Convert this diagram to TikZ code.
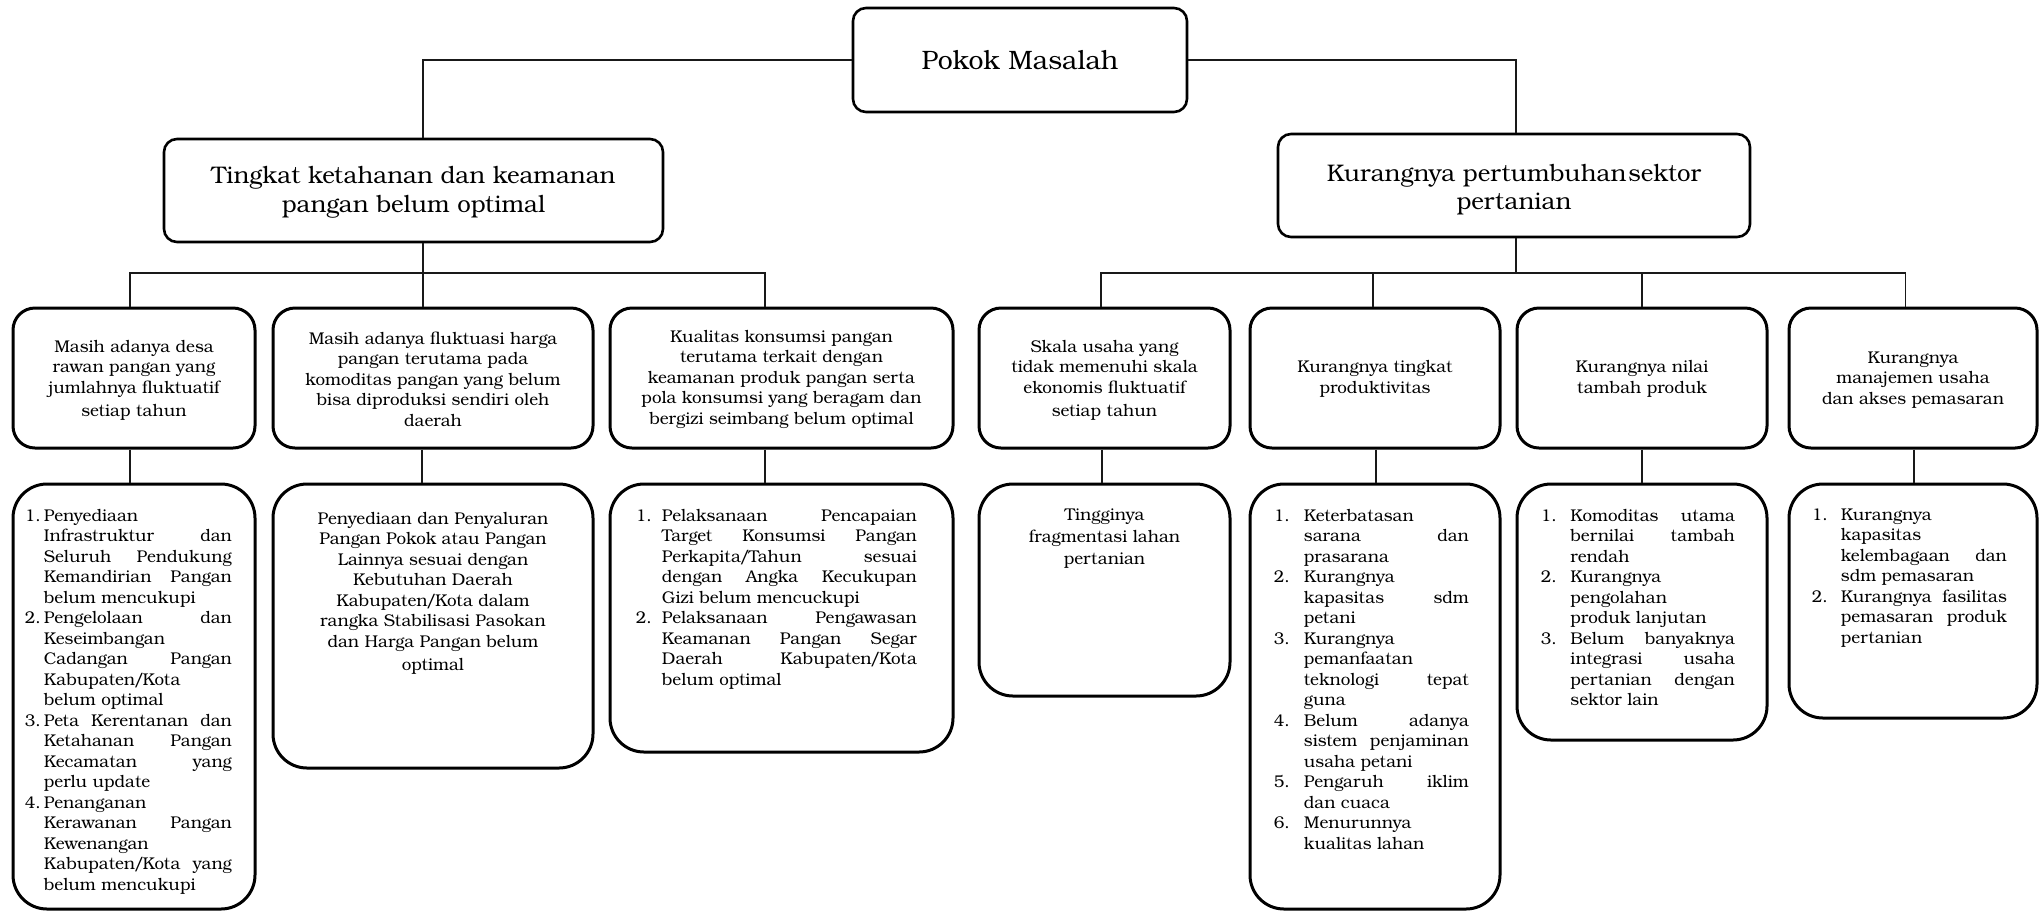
\documentclass[tikz,border=0pt]{standalone}
\usepackage{graphicx}
\usepackage{fontspec}
\setmainfont{texgyrebonum}[Extension=.otf,UprightFont=*-regular,BoldFont=*-bold,ItalicFont=*-italic,BoldItalicFont=*-bolditalic]
\newdimen\IND \newdimen\W \newdimen\avail
\newcommand\sls{\kern-0.08em/\kern-0.08em}
\newcommand\fitline[3]{%
 \avail=\W \advance\avail-\IND
 \setbox0=\hbox{#3}%
 \hbox to\W{\hbox to\IND{#1\hss}%
  \ifdim\wd0>\avail
    \pgfmathsetmacro\fitr{\the\avail/\the\wd0}\scalebox{\fitr}[1]{\box0}%
  \else
    \if#2j\hbox to\avail{#3}\else\box0\hss\fi
  \fi}}
\newcommand\JF[2]{\fitline{#1}{j}{#2}}
\newcommand\RF[2]{\fitline{#1}{r}{#2}}
\newcommand\JL[1]{\fitline{}{j}{#1}}
\newcommand\RL[1]{\fitline{}{r}{#1}}
\tikzset{
 conn/.style={line width=0.8pt, draw=black!90},
 topbox/.style={draw, line width=1.3pt, rounded corners=6.5pt, inner sep=0pt},
 midbox/.style={draw, line width=1.5pt, rounded corners=11pt, inner sep=0pt},
 lowbox/.style={draw, line width=1.5pt, rounded corners=17pt, inner sep=0pt},
 headtxt/.style={align=center, inner sep=0pt, font=\fontsize{12}{14.3}\selectfont},
 midtxt/.style={align=center, inner sep=0pt, font=\fontsize{8.5}{10.25}\selectfont},
 lowctr/.style={anchor=north, align=center, inner sep=0pt, font=\fontsize{8.5}{10.25}\selectfont},
 listtxt/.style={anchor=north west, align=left, inner sep=0pt, font=\fontsize{8.5}{10.25}\selectfont},
}
\begin{document}
\begin{tikzpicture}[x=0.5pt,y=-0.5pt]
\fill[white] (0,0) rectangle (2044,912);
\useasboundingbox (0,0) rectangle (2044,912);
% top
\node[topbox, minimum width=167pt, minimum height=52pt] (pokok) at (1020,60) {};
\node[headtxt, font=\fontsize{13.3}{14}\selectfont] (pokokT) at (pokok.center) {Pokok Masalah};
% level 1
\node[topbox, minimum width=249.5pt, minimum height=51.5pt] (ka) at (413.5,190.5) {};
\node[headtxt] (kaT) at ([yshift=-1pt]ka.center) {Tingkat ketahanan dan keamanan\\pangan belum optimal};
\node[topbox, minimum width=236pt, minimum height=51.5pt] (kb) at (1514,185.5) {};
\node[headtxt] (kbT) at ([yshift=-2pt]kb.center) {Kurangnya pertumbuhan\hspace{1pt}sektor\\pertanian};
% level 2
\node[midbox, minimum width=121pt, minimum height=70pt] (m1) at (134,378) {};
\node[midbox, minimum width=160pt, minimum height=70pt] (m2) at (433,378) {};
\node[midbox, minimum width=171.5pt, minimum height=70pt] (m3) at (781.5,378) {};
\node[midbox, minimum width=125.5pt, minimum height=70pt] (m4) at (1104.5,378) {};
\node[midbox, minimum width=125pt, minimum height=70pt] (m5) at (1375,378) {};
\node[midbox, minimum width=125pt, minimum height=70pt] (m6) at (1642,378) {};
\node[midbox, minimum width=124pt, minimum height=70pt] (m7) at (1913,378) {};
\node[midtxt] (m1T) at ([yshift=-1pt]m1.center) {Masih adanya desa\\rawan pangan yang\\jumlahnya fluktuatif\\[1.2pt]setiap tahun};
\node[midtxt] (m2T) at ([yshift=-0.5pt]m2.center) {Masih adanya fluktuasi harga\\pangan terutama pada\\komoditas pangan yang belum\\bisa diproduksi sendiri oleh\\daerah};
\node[midtxt] (m3T) at ([yshift=-0.5pt]m3.center) {Kualitas konsumsi pangan\\terutama terkait dengan\\keamanan produk pangan serta\\pola konsumsi yang beragam dan\\bergizi seimbang belum optimal};
\node[midtxt] (m4T) at ([yshift=-1pt]m4.center) {Skala usaha yang\\tidak memenuhi skala\\ekonomis fluktuatif\\[1.2pt]setiap tahun};
\node[midtxt] (m5T) at ([yshift=-0.5pt]m5.center) {Kurangnya tingkat\\produktivitas};
\node[midtxt] (m6T) at ([yshift=-0.5pt]m6.center) {Kurangnya nilai\\tambah produk};
\node[midtxt] (m7T) at ([yshift=-1pt]m7.center) {Kurangnya\\manajemen usaha\\dan akses pemasaran};
% level 3
\node[lowbox, minimum width=121pt, minimum height=212.5pt] (l1) at (134,696.5) {};
\node[lowbox, minimum width=160pt, minimum height=142pt] (l2) at (433,626) {};
\node[lowbox, minimum width=171.5pt, minimum height=134pt] (l3) at (781.5,618) {};
\node[lowbox, minimum width=125.5pt, minimum height=106pt] (l4) at (1104.5,590) {};
\node[lowbox, minimum width=125pt, minimum height=212.5pt] (l5) at (1375,696.5) {};
\node[lowbox, minimum width=125pt, minimum height=128pt] (l6) at (1642,612) {};
\node[lowbox, minimum width=124pt, minimum height=117pt] (l7) at (1913,601) {};
\IND=9.5pt \W=103.5pt
\node[listtxt] (l1T) at ([xshift=6.5pt,yshift=-13pt]l1.north west) {%
\RF{1.}{Penyediaan}\\
\JL{Infrastruktur\hfill dan}\\
\JL{Seluruh\hfill Pendukung}\\
\JL{Kemandirian\hfill Pangan}\\
\RL{belum mencukupi}\\
\JF{2.}{Pengelolaan\hfill dan}\\
\RL{Keseimbangan}\\
\JL{Cadangan\hfill Pangan}\\
\RL{Kabupaten\sls Kota}\\
\RL{belum optimal}\\
\JF{3.}{Peta\hfill Kerentanan\hfill dan}\\
\JL{Ketahanan\hfill Pangan}\\
\JL{Kecamatan\hfill yang}\\
\RL{perlu update}\\
\RF{4.}{Penanganan}\\
\JL{Kerawanan\hfill Pangan}\\
\RL{Kewenangan}\\
\JL{Kabupaten\sls Kota\hfill yang}\\
\RL{belum mencukupi}};
\node[lowctr] (l2T) at ([yshift=-14.5pt]l2.north) {Penyediaan dan Penyaluran\\Pangan Pokok atau Pangan\\Lainnya sesuai dengan\\Kebutuhan Daerah\\Kabupaten\sls Kota dalam\\rangka Stabilisasi Pasokan\\dan Harga Pangan belum\\[1.5pt]optimal};
\IND=13pt \W=140.5pt
\node[listtxt] (l3T) at ([xshift=13.5pt,yshift=-13pt]l3.north west) {%
\JF{1.}{Pelaksanaan\hfill Pencapaian}\\
\JL{Target\hfill Konsumsi\hfill Pangan}\\
\JL{Perkapita\sls Tahun\hfill sesuai}\\
\JL{dengan\hfill Angka\hfill Kecukupan}\\
\RL{Gizi belum mencuckupi}\\
\JF{2.}{Pelaksanaan\hfill Pengawasan}\\
\JL{Keamanan\hfill Pangan\hfill Segar}\\
\JL{Daerah\hfill Kabupaten\sls Kota}\\
\RL{belum optimal}};
\node[lowctr, font=\fontsize{8.5}{11}\selectfont] (l4T) at ([yshift=-13pt]l4.north) {Tingginya\\fragmentasi lahan\\pertanian};
\IND=15pt \W=97.5pt
\node[listtxt] (l5T) at ([xshift=12.5pt,yshift=-13pt]l5.north west) {%
\RF{1.}{Keterbatasan}\\
\JL{sarana\hfill dan}\\
\RL{prasarana}\\
\RF{2.}{Kurangnya}\\
\JL{kapasitas\hfill sdm}\\
\RL{petani}\\
\RF{3.}{Kurangnya}\\
\RL{pemanfaatan}\\
\JL{teknologi\hfill tepat}\\
\RL{guna}\\
\JF{4.}{Belum\hfill adanya}\\
\JL{sistem\hfill penjaminan}\\
\RL{usaha petani}\\
\JF{5.}{Pengaruh\hfill iklim}\\
\RL{dan cuaca}\\
\RF{6.}{Menurunnya}\\
\RL{kualitas lahan}};
\IND=14.75pt \W=97pt
\node[listtxt] (l6T) at ([xshift=12.5pt,yshift=-13pt]l6.north west) {%
\JF{1.}{Komoditas\hfill utama}\\
\JL{bernilai\hfill tambah}\\
\RL{rendah}\\
\RF{2.}{Kurangnya}\\
\RL{pengolahan}\\
\RL{produk lanjutan}\\
\JF{3.}{Belum\hfill banyaknya}\\
\JL{integrasi\hfill usaha}\\
\JL{pertanian\hfill dengan}\\
\RL{sektor lain}};
\IND=14.5pt \W=97.5pt
\node[listtxt] (l7T) at ([xshift=12pt,yshift=-13pt]l7.north west) {%
\RF{1.}{Kurangnya}\\
\RL{kapasitas}\\
\JL{kelembagaan\hfill dan}\\
\RL{sdm pemasaran}\\
\JF{2.}{Kurangnya\hfill fasilitas}\\
\JL{pemasaran\hfill produk}\\
\RL{pertanian}};
% connectors
\coordinate (busL) at (423,273);
\coordinate (busR) at (1516,273);
\draw[conn] (pokok.west) -| ([xshift=4.75pt]ka.north);
\draw[conn] (pokok.east) -| ([xshift=1pt]kb.north);
\draw[conn] ([xshift=4.75pt]ka.south) -- ([xshift=-5pt]m2.north);
\draw[conn] ([xshift=-2pt]m1.north) |- (busL) -| ([xshift=-8.25pt]m3.north);
\draw[conn] ([xshift=1pt]kb.south) -- (busR);
\draw[conn] ([xshift=-1.75pt]m4.north) |- (busR) -| ([xshift=-3.75pt]m7.north);
\draw[conn] ([xshift=-1pt]m5.north) -- ([xshift=-1pt]m5.north |- busR);
\draw[conn] (m6.north) -- (m6.north |- busR);
\draw[conn] ([xshift=-2pt]m1.south) -- ([xshift=-2pt]l1.north);
\draw[conn] ([xshift=-5.5pt]m2.south) -- ([xshift=-5.5pt]l2.north);
\draw[conn] ([xshift=-8.25pt]m3.south) -- ([xshift=-8.25pt]l3.north);
\draw[conn] ([xshift=-1.25pt]m4.south) -- ([xshift=-1.25pt]l4.north);
\draw[conn] ([xshift=0.5pt]m5.south) -- ([xshift=0.5pt]l5.north);
\draw[conn] (m6.south) -- (l6.north);
\draw[conn] ([xshift=0.5pt]m7.south) -- ([xshift=0.5pt]l7.north);
\end{tikzpicture}
\end{document}
